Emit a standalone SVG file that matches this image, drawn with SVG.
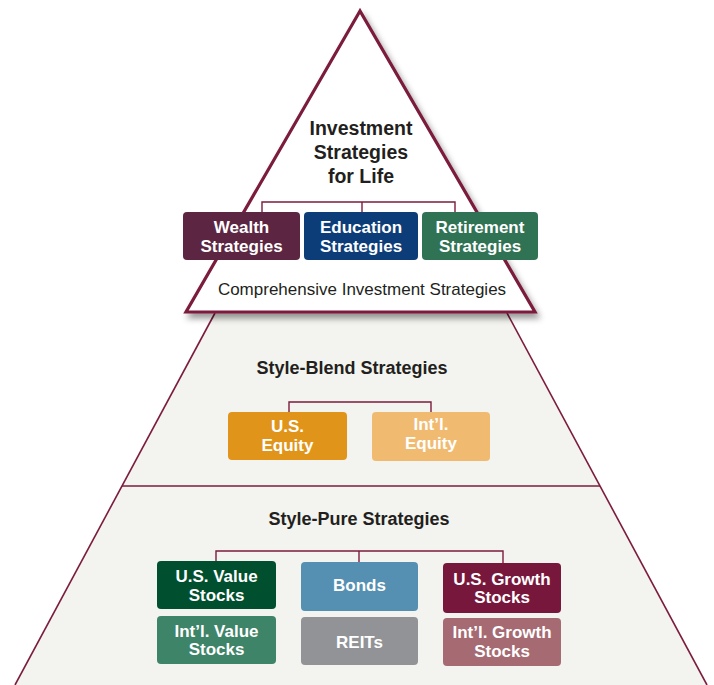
<svg xmlns="http://www.w3.org/2000/svg" width="714" height="685" viewBox="0 0 714 685">
  <defs>
    <filter id="shadow" x="-10%" y="-10%" width="125%" height="125%">
      <feDropShadow dx="3" dy="5" stdDeviation="3" flood-color="#000" flood-opacity="0.4"/>
    </filter>
    <style>
      .edge { stroke: #7b1c3e; stroke-width: 1.6; fill: none; }
      .link { stroke: #7b1c3e; stroke-width: 1.4; fill: none; }
      .head { font-family: "Liberation Sans", Arial, sans-serif; font-weight: bold; fill: #231f20; text-anchor: middle; }
      .lbl { font-family: "Liberation Sans", Arial, sans-serif; font-weight: bold; fill: #ffffff; text-anchor: middle; font-size: 17px; }
      .sub { font-family: "Liberation Sans", Arial, sans-serif; fill: #231f20; text-anchor: middle; font-size: 17px; }
    </style>
  </defs>

  <rect width="714" height="685" fill="#ffffff"/>

  <!-- pyramid body -->
  <g id="pyramid">
    <polygon points="215,313 507,313 707,685 15,685" fill="#f3f3ef"/>
    <line class="edge" x1="215" y1="313" x2="15" y2="685"/>
    <line class="edge" x1="507" y1="313" x2="707" y2="685"/>
    <line class="edge" x1="122" y1="486" x2="600" y2="486"/>
  </g>

  <!-- apex triangle -->
  <g id="apex">
    <polygon points="360,11 186,312 535,312" fill="#ffffff" stroke="#7b1c3e" stroke-width="3.2" stroke-linejoin="miter" filter="url(#shadow)"/>
    <text class="head" font-size="19.5" x="361" y="135">Investment</text>
    <text class="head" font-size="19.5" x="361" y="159">Strategies</text>
    <text class="head" font-size="19.5" x="361" y="183">for Life</text>
    <text class="sub" x="362" y="295">Comprehensive Investment Strategies</text>
  </g>

  <!-- connectors -->
  <g id="connectors">
    <polyline class="link" points="262,212 262,202 455,202 455,212"/>
    <line class="link" x1="362" y1="202" x2="362" y2="212"/>
    <polyline class="link" points="289,412 289,402 431,402 431,412"/>
    <polyline class="link" points="216,561 216,551 503,551 503,563"/>
    <line class="link" x1="359" y1="551" x2="359" y2="562"/>
  </g>

  <!-- top tier -->
  <g id="wealth">
    <rect x="183" y="212" width="117" height="48" rx="4" fill="#5c2541"/>
    <text class="lbl" font-size="17.5" x="241.5" y="233">Wealth</text>
    <text class="lbl" font-size="17.5" x="241.5" y="252">Strategies</text>
  </g>
  <g id="education">
    <rect x="304" y="212" width="114" height="48" rx="4" fill="#0d3d78"/>
    <text class="lbl" font-size="17.5" x="361" y="233">Education</text>
    <text class="lbl" font-size="17.5" x="361" y="252">Strategies</text>
  </g>
  <g id="retirement">
    <rect x="422" y="212" width="116" height="48" rx="4" fill="#2f7254"/>
    <text class="lbl" font-size="17.5" x="480" y="233">Retirement</text>
    <text class="lbl" font-size="17.5" x="480" y="252">Strategies</text>
  </g>

  <!-- style-blend tier -->
  <g id="style-blend">
    <text class="head" font-size="18" x="352" y="374">Style-Blend Strategies</text>
  </g>
  <g id="us-equity">
    <rect x="228" y="412" width="119" height="48" rx="4" fill="#e0951a"/>
    <text class="lbl" x="287.5" y="432">U.S.</text>
    <text class="lbl" x="287.5" y="451">Equity</text>
  </g>
  <g id="intl-equity">
    <rect x="372" y="412" width="118" height="49" rx="4" fill="#f0bb70"/>
    <text class="lbl" x="431" y="430">Int’l.</text>
    <text class="lbl" x="431" y="449">Equity</text>
  </g>

  <!-- style-pure tier -->
  <g id="style-pure">
    <text class="head" font-size="18" x="359" y="525">Style-Pure Strategies</text>
  </g>
  <g id="us-value">
    <rect x="157" y="561" width="119" height="48" rx="4" fill="#00502f"/>
    <text class="lbl" x="216.5" y="582">U.S. Value</text>
    <text class="lbl" x="216.5" y="601">Stocks</text>
  </g>
  <g id="bonds">
    <rect x="301" y="562" width="117" height="49" rx="4" fill="#5590b2"/>
    <text class="lbl" x="359.5" y="591">Bonds</text>
  </g>
  <g id="us-growth">
    <rect x="443" y="563" width="118" height="50" rx="4" fill="#78173c"/>
    <text class="lbl" x="502" y="585">U.S. Growth</text>
    <text class="lbl" x="502" y="603">Stocks</text>
  </g>
  <g id="intl-value">
    <rect x="157" y="616" width="119" height="48" rx="4" fill="#3e8468"/>
    <text class="lbl" x="216.5" y="637">Int’l. Value</text>
    <text class="lbl" x="216.5" y="655">Stocks</text>
  </g>
  <g id="reits">
    <rect x="301" y="617" width="117" height="48" rx="4" fill="#929396"/>
    <text class="lbl" x="359.5" y="648">REITs</text>
  </g>
  <g id="intl-growth">
    <rect x="443" y="618" width="118" height="48" rx="4" fill="#a56a72"/>
    <text class="lbl" x="502" y="638">Int’l. Growth</text>
    <text class="lbl" x="502" y="657">Stocks</text>
  </g>
</svg>
